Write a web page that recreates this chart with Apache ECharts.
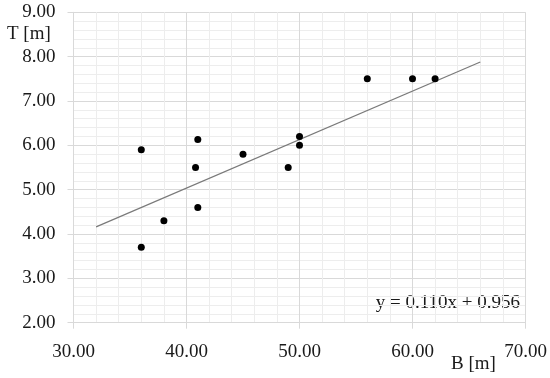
<!DOCTYPE html>
<html>
<head>
<meta charset="utf-8">
<script src="https://cdn.jsdelivr.net/npm/echarts@6/dist/echarts.min.js"></script>
<style>html,body{margin:0;padding:0;background:#fff}#c{width:550px;height:378px}</style>
</head>
<body>
<div id="c"></div>
<script>
var bValues = [36, 41, 40.8, 41, 38, 36, 45, 49, 50, 50, 56, 60, 62];
var tValues = [5.9, 6.13, 5.5, 4.6, 4.3, 3.7, 5.8, 5.5, 6.2, 6.0, 7.5, 7.5, 7.5];
var trendX = [32, 66];
var trendY = [4.16, 7.88];
var equationText = 'y = 0.110x + 0.956';
var xName = 'B [m]';
var yName = 'T [m]';

var FONT = '"Liberation Serif", serif';
var FS = 19;
var chart = echarts.init(document.getElementById('c'), null, {renderer: 'canvas'});
var pts = bValues.map(function (b, i) { return [b, tValues[i]]; });
var trend = trendX.map(function (x, i) { return [x, trendY[i]]; });

chart.setOption({
  animation: false,
  backgroundColor: '#ffffff',
  grid: {left: 73.5, right: 24.5, top: 12.3, bottom: 55.3},
  xAxis: {
    type: 'value', min: 30, max: 70, interval: 10,
    axisLine: {show: true, lineStyle: {color: '#d9d9d9', width: 1}},
    axisTick: {show: true, length: 6, lineStyle: {color: '#d9d9d9'}},
    axisLabel: {margin: 20, color: '#1a1a1a', fontFamily: FONT, fontSize: FS,
      formatter: function (v) { return v.toFixed(2); }},
    splitLine: {show: true, lineStyle: {color: '#d9d9d9', width: 1}},
    minorTick: {show: false, splitNumber: 5},
    minorSplitLine: {show: true, lineStyle: {color: '#ededed', width: 1}}
  },
  yAxis: {
    type: 'value', min: 2, max: 9, interval: 1,
    axisLine: {show: true, lineStyle: {color: '#d9d9d9', width: 1}},
    axisTick: {show: true, length: 6, lineStyle: {color: '#d9d9d9'}},
    axisLabel: {margin: 18, color: '#1a1a1a', fontFamily: FONT, fontSize: FS,
      formatter: function (v) { return v.toFixed(2); }},
    splitLine: {show: true, lineStyle: {color: '#d9d9d9', width: 1}},
    minorTick: {show: false, splitNumber: 5},
    minorSplitLine: {show: true, lineStyle: {color: '#ededed', width: 1}}
  },
  series: [
    {
      type: 'line', data: trend, symbol: 'none', silent: true,
      lineStyle: {color: '#7a7a7a', width: 1.2}, z: 2
    },
    {
      type: 'scatter', data: pts, symbol: 'circle', symbolSize: 7,
      itemStyle: {color: '#000000', opacity: 1}, z: 3
    }
  ],
  graphic: [
    {type: 'text', left: 7, top: 25, style: {text: yName, font: FS + 'px ' + FONT, fill: '#1a1a1a'}},
    {type: 'text', left: 451, top: 355, style: {text: xName, font: FS + 'px ' + FONT, fill: '#1a1a1a'}},
    {type: 'text', right: 30, top: 294, style: {text: equationText, font: FS + 'px ' + FONT, fill: '#1a1a1a'}}
  ]
});
</script>
</body>
</html>
